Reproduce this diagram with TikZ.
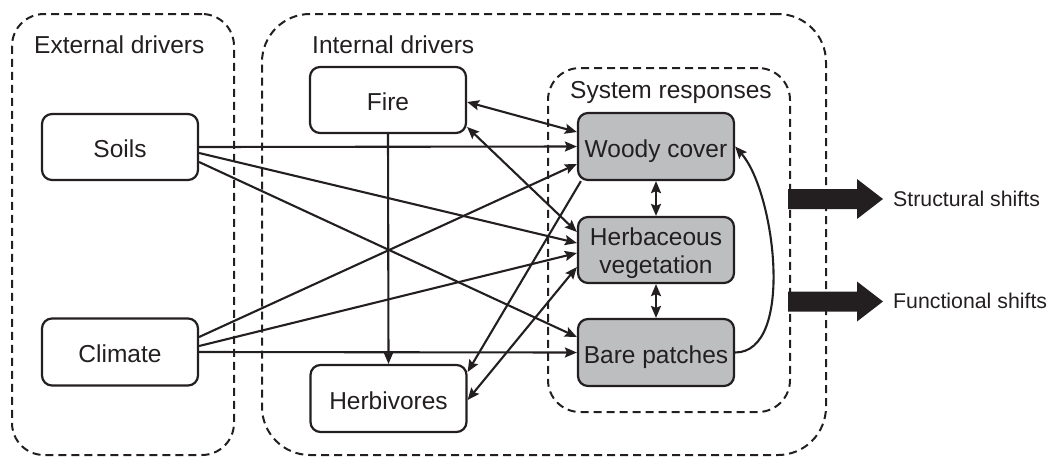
\documentclass[tikz,border=0pt]{standalone}
\usepackage{fontspec}
\setmainfont{Liberation Sans}
\usetikzlibrary{arrows.meta}
\definecolor{ink}{RGB}{35,31,32}
\definecolor{respfill}{RGB}{188,190,192}
\tikzset{
  frame/.style={draw=ink, line width=2pt, dash pattern=on 8pt off 5pt, rounded corners=#1, inner sep=0pt},
  drvbox/.style={draw=ink, line width=2.2pt, rounded corners=10pt, minimum width=156pt, minimum height=66pt, text=ink, font=\fontsize{24.5}{27.5}\selectfont, inner sep=0pt, align=center},
  onel/.style={text height=21pt, text depth=0pt},
  respbox/.style={drvbox, fill=respfill},
  title/.style={anchor=west, text=ink, font=\fontsize{24.5}{29}\selectfont, inner sep=0pt},
  shiftlbl/.style={anchor=west, text=ink, font=\fontsize{21.3}{25}\selectfont, inner sep=0pt},
  arr/.style={draw=ink, line width=2.1pt, -{Stealth[length=12pt,width=10pt,inset=2pt]}},
  darr/.style={draw=ink, line width=2.1pt, {Stealth[length=12pt,width=10pt,inset=2pt]}-{Stealth[length=12pt,width=10pt,inset=2pt]}},
}
\begin{document}
\begin{tikzpicture}[x=1pt,y=-1pt]
\useasboundingbox (0,0) rectangle (1053,459);
% frames
\node[frame=32pt, minimum width=222pt, minimum height=441pt] (extf) at (123,234.5) {};
\node[frame=48pt, minimum width=564pt, minimum height=441pt] (intf) at (544,234.5) {};
\node[frame=32pt, minimum width=242pt, minimum height=344pt] (sysf) at (669,240) {};
% titles
\node[title] (extt) at (34,45) {External drivers};
\node[title] (intt) at (312,45) {Internal drivers};
\node[title] (syst) at (570,92) {System responses};
% boxes
\node[drvbox, onel] (soils) at (120,147) {Soils};
\node[drvbox, onel, minimum height=67pt] (climate) at (120,352) {Climate};
\node[drvbox, onel] (fire) at (388,100) {Fire};
\node[drvbox, onel, minimum height=67pt] (herbiv) at (388.5,398.5) {Herbivores};
\node[respbox, onel, minimum height=67pt] (woody) at (656,146.5) {Woody cover};
\node[respbox] (herb) at (656,250) {\rule{0pt}{24pt}Herbaceous\\vegetation};
\node[respbox, onel, minimum height=67pt] (bare) at (656,352.5) {Bare patches};
% external drivers
\draw[arr] (soils.east) -- (woody.west);
\draw[arr] ([yshift=-6pt]soils.east) -- ([yshift=7pt]herb.west);
\draw[arr] ([yshift=-15pt]soils.east) -- ([yshift=15.5pt]bare.west);
\draw[arr] ([yshift=15pt]climate.east) -- ([yshift=-17.5pt]woody.west);
\draw[arr] ([yshift=6pt]climate.east) -- ([yshift=-3pt]herb.west);
\draw[arr] (climate.east) -- (bare.west);
% internal drivers
\draw[arr] (fire.south) -- (herbiv.north);
\draw[darr] ([yshift=-2pt]fire.east) -- ([yshift=14.5pt]woody.west);
\draw[darr] ([yshift=-27pt]fire.east) -- ([yshift=18pt]herb.west);
\draw[arr] ([xshift=4pt]woody.south west) -- ([yshift=26.5pt]herbiv.east);
\draw[darr] ([yshift=-17pt]herb.west) -- ([yshift=-1.5pt]herbiv.east);
% responses
\draw[darr] (woody.south) -- (herb.north);
\draw[darr] (herb.south) -- (bare.north);
\draw[arr] (bare.east) .. controls +(60,0) and +(40,45) .. (woody.east);
% shifts
\node[shiftlbl] (struct) at (893,199) {Structural shifts};
\node[shiftlbl] (funct) at (893,301) {Functional shifts};
\coordinate (s0) at (788,199);
\coordinate (f0) at (788,301.5);
\fill[ink] (s0) ++(0,-10) -- ++(69,0) -- ++(0,-10) -- ++(26,20) -- ++(-26,20) -- ++(0,-10) -- ++(-69,0) -- cycle;
\fill[ink] (f0) ++(0,-10) -- ++(69,0) -- ++(0,-10) -- ++(26,20) -- ++(-26,20) -- ++(0,-10) -- ++(-69,0) -- cycle;
\end{tikzpicture}
\end{document}
